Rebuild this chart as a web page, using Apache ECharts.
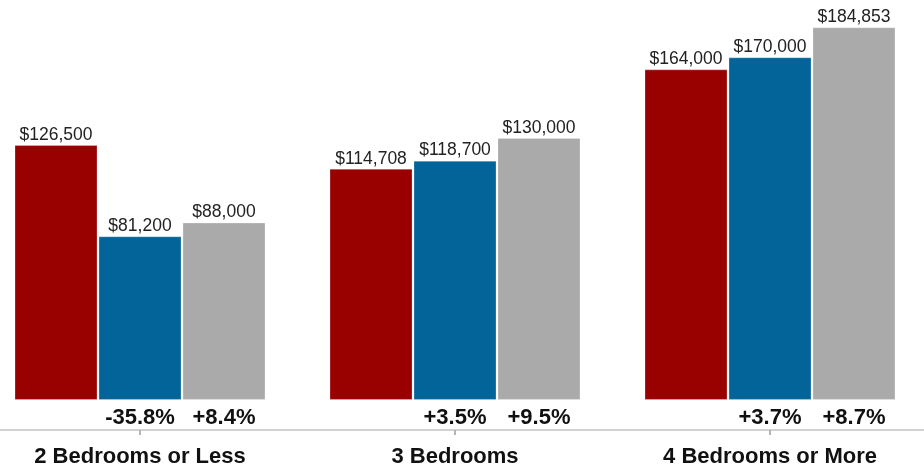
<!DOCTYPE html>
<html>
<head>
<meta charset="utf-8">
<script src="https://cdn.jsdelivr.net/npm/echarts@6/dist/echarts.min.js"></script>
<style>
  html, body { margin: 0; padding: 0; background: #ffffff; }
  #chart { width: 924px; height: 476px; }
</style>
</head>
<body>
<div id="chart"></div>
<script>
// Median price by home size, three periods, with change labels under the later bars
const categories = ['2 Bedrooms or Less', '3 Bedrooms', '4 Bedrooms or More'];
const pricesFirst = [126500, 114708, 164000];
const pricesSecond = [81200, 118700, 170000];
const pricesThird = [88000, 130000, 184853];
const changeSecond = ['-35.8%', '+3.5%', '+3.7%'];
const changeThird = ['+8.4%', '+9.5%', '+8.7%'];

const FONT = '"Liberation Sans", Arial, Helvetica, sans-serif';
const money = v => '$' + Number(v).toLocaleString('en-US');

function priceSeries(name, data, color, stack) {
  return {
    name: name,
    type: 'bar',
    stack: stack,
    data: data,
    barWidth: 83,
    barGap: '1.2%',
    itemStyle: { color: color, borderColor: 'rgba(255,255,255,0.25)', borderWidth: 1 },
    label: {
      show: true,
      position: 'top',
      distance: 1,
      formatter: p => money(p.value),
      color: '#222',
      fontFamily: FONT,
      fontSize: 17.5
    },
    emphasis: { disabled: true },
    z: 2
  };
}

// Zero-height anchors under each bar that carry the percentage change text
function changeSeries(name, labels, stack) {
  return {
    name: name,
    type: 'bar',
    stack: stack,
    data: labels.map(() => -1e-6),
    barWidth: 83,
    barGap: '1.2%',
    itemStyle: { color: 'transparent' },
    label: {
      show: true,
      position: 'bottom',
      distance: 7,
      formatter: p => labels[p.dataIndex],
      color: '#111',
      fontFamily: FONT,
      fontWeight: 'bold',
      fontSize: 22
    },
    emphasis: { disabled: true },
    tooltip: { show: false }
  };
}

const chart = echarts.init(document.getElementById('chart'), null, { renderer: 'canvas' });
chart.setOption({
  animation: false,
  backgroundColor: '#ffffff',
  grid: { left: -17.5, top: 0, width: 945, height: 430, outerBoundsMode: 'none', containLabel: false },
  xAxis: {
    type: 'category',
    data: categories,
    axisLine: { onZero: false, lineStyle: { color: '#d2d2d2', width: 2 } },
    axisTick: { show: true, alignWithLabel: true, length: 5, lineStyle: { color: '#b5b5b5', width: 2 } },
    axisLabel: {
      margin: 16,
      color: '#111',
      fontFamily: FONT,
      fontWeight: 'bold',
      fontSize: 22
    },
    splitLine: { show: false }
  },
  yAxis: {
    type: 'value',
    min: -14900,
    max: 198400,
    show: false,
    splitLine: { show: false }
  },
  series: [
    priceSeries('Period 1', pricesFirst, '#990000', 'p1'),
    priceSeries('Period 2', pricesSecond, '#03649a', 'p2'),
    priceSeries('Period 3', pricesThird, '#aaaaaa', 'p3'),
    changeSeries('Change 2', changeSecond, 'p2'),
    changeSeries('Change 3', changeThird, 'p3')
  ]
});
</script>
</body>
</html>
